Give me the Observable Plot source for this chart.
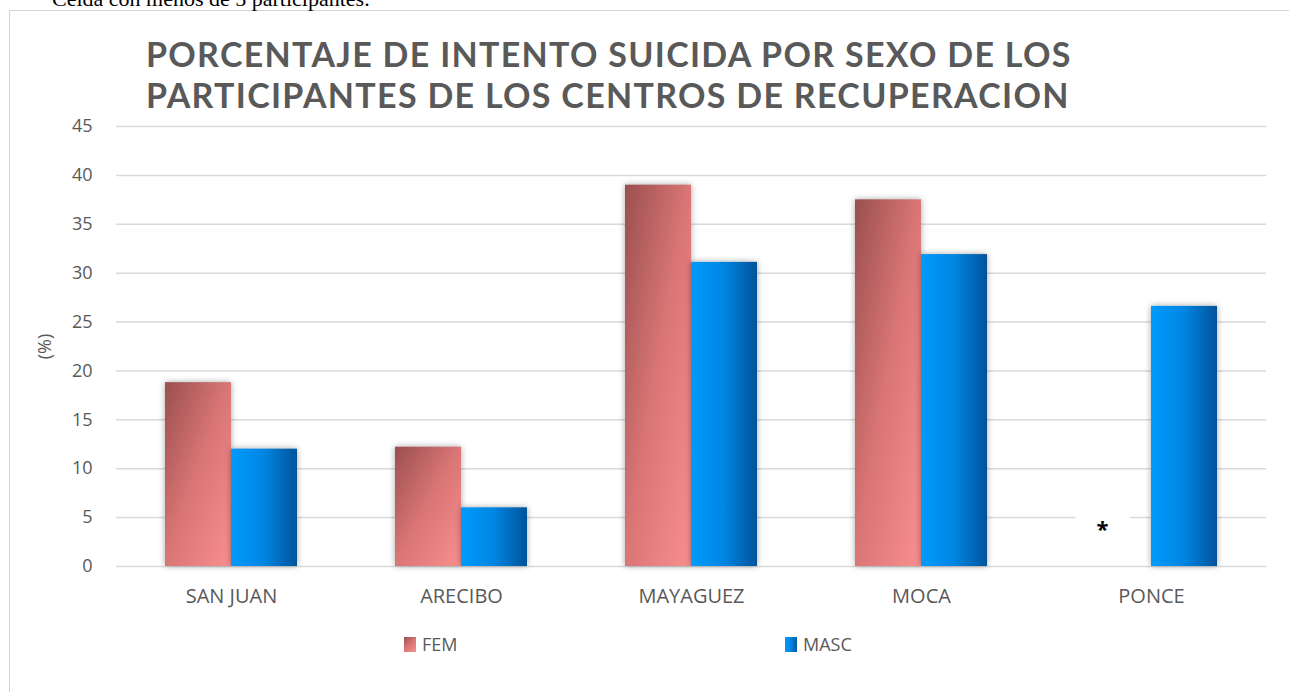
<!DOCTYPE html>
<html>
<head>
<meta charset="utf-8">
<script src="https://cdn.jsdelivr.net/npm/d3@7"></script>
<script src="https://cdn.jsdelivr.net/npm/@observablehq/plot@0.6"></script>
<style>
  html, body { margin: 0; padding: 0; background: #fff; overflow: hidden; }
  #wrap { position: relative; width: 1289px; height: 692px; overflow: hidden; }
  #frame { position: absolute; left: 9px; top: 10px; width: 1300px; height: 700px; border: 1.5px solid #d4d4d4; box-sizing: border-box; }
  #caption { position: absolute; left: 52px; top: -12px; font-family: "Liberation Serif", serif; font-size: 22px; line-height: 22px; color: #000; white-space: nowrap; }
  .tl { position: absolute; left: 146px; font-family: Lato, sans-serif; font-weight: 700; font-size: 34px; letter-spacing: 1.3px; line-height: 41px; color: #595959; white-space: nowrap; z-index: 2; }
  #chart { position: absolute; left: 0; top: 0; }
  .bar rect { filter: drop-shadow(0px 0px 3px rgba(0,0,0,0.35)); }
  #legend { position: absolute; top: 632px; left: 0; width: 1289px; font-family: "Open Sans", sans-serif; font-size: 18px; color: #595959; }
  .li { position: absolute; display: flex; align-items: center; }
  .sw { width: 12px; height: 15px; margin-right: 6px; }
</style>
</head>
<body>
<svg width="0" height="0" style="position:absolute">
  <defs>
    <linearGradient id="gradFem" x1="0" y1="0" x2="1" y2="1">
      <stop offset="0" stop-color="#9a4f4f"/>
      <stop offset="0.5" stop-color="#db7676"/>
      <stop offset="1" stop-color="#f88f8f"/>
    </linearGradient>
    <linearGradient id="gradMasc" x1="0" y1="0" x2="1" y2="0">
      <stop offset="0" stop-color="#009bfc"/>
      <stop offset="0.5" stop-color="#0085e2"/>
      <stop offset="1" stop-color="#00539a"/>
    </linearGradient>
  </defs>
</svg>
<div id="wrap">
  <div id="frame"></div>
  <div id="caption">Celda con menos de 5 participantes.</div>
  <div id="chart"></div>
  <div class="tl" style="top:33px">PORCENTAJE DE INTENTO SUICIDA POR SEXO DE LOS</div>
  <div class="tl" style="top:74px">PARTICIPANTES DE LOS CENTROS DE RECUPERACION</div>
  <div id="legend"></div>
</div>
<script>
const centers = ["SAN JUAN", "ARECIBO", "MAYAGUEZ", "MOCA", "PONCE"];
const sexes = ["FEM", "MASC"];
const fem = [18.8, 12.2, 39.0, 37.5, null];
const masc = [12.0, 6.0, 31.1, 31.9, 26.6];
const yTicks = [0, 5, 10, 15, 20, 25, 30, 35, 40, 45];
const missingMark = "*";

const rows = centers.flatMap((c, i) => [
  {center: c, sex: "FEM", value: fem[i]},
  {center: c, sex: "MASC", value: masc[i]}
]);

const chart = Plot.plot({
  width: 1289,
  height: 692,
  marginTop: 126,
  marginBottom: 126,
  marginLeft: 115,
  marginRight: 22,
  style: {fontFamily: "'Open Sans', sans-serif", fontSize: "18px", color: "#595959", background: "transparent", overflow: "visible"},
  fx: {domain: centers, padding: 0, label: null},
  x: {domain: sexes, paddingInner: 0, paddingOuter: 0.73, axis: null},
  y: {domain: [0, 45], ticks: yTicks, tickSize: 0, tickPadding: 24, label: "(%)", labelArrow: "none", labelAnchor: "center", labelOffset: 78},
  marks: [
    Plot.gridY(yTicks, {stroke: "#d9d9d9", strokeOpacity: 1, strokeWidth: 1.5}),
    Plot.axisFx({anchor: "bottom", tickSize: 0, tickPadding: 22, fontSize: 20, label: null, fill: "#595959"}),
    Plot.text(rows.filter(d => d.value == null), {
      fx: "center", x: "sex", y: () => 0, text: () => missingMark,
      dx: -16, dy: -37, fontSize: 22, fontWeight: "bold", fill: "#000",
      stroke: "#fff", strokeWidth: 46, strokeLinejoin: "round"
    }),
    Plot.barY(rows.filter(d => d.sex === "FEM" && d.value != null), {
      fx: "center", x: "sex", y: "value", fill: "url(#gradFem)", className: "bar"
    }),
    Plot.barY(rows.filter(d => d.sex === "MASC" && d.value != null), {
      fx: "center", x: "sex", y: "value", fill: "url(#gradMasc)", className: "bar"
    })
  ]
});
document.getElementById("chart").appendChild(chart);

const legend = document.getElementById("legend");
const legendPos = {FEM: 404, MASC: 785};
sexes.forEach(s => {
  const item = document.createElement("div");
  item.className = "li";
  item.style.left = legendPos[s] + "px";
  const sw = document.createElement("div");
  sw.className = "sw";
  sw.style.background = s === "FEM"
    ? "linear-gradient(135deg, #9a4f4f, #db7676 50%, #f88f8f)"
    : "linear-gradient(90deg, #009bfc, #0085e2 50%, #00539a)";
  const tx = document.createElement("span");
  tx.textContent = s;
  item.appendChild(sw);
  item.appendChild(tx);
  legend.appendChild(item);
});
</script>
</body>
</html>
